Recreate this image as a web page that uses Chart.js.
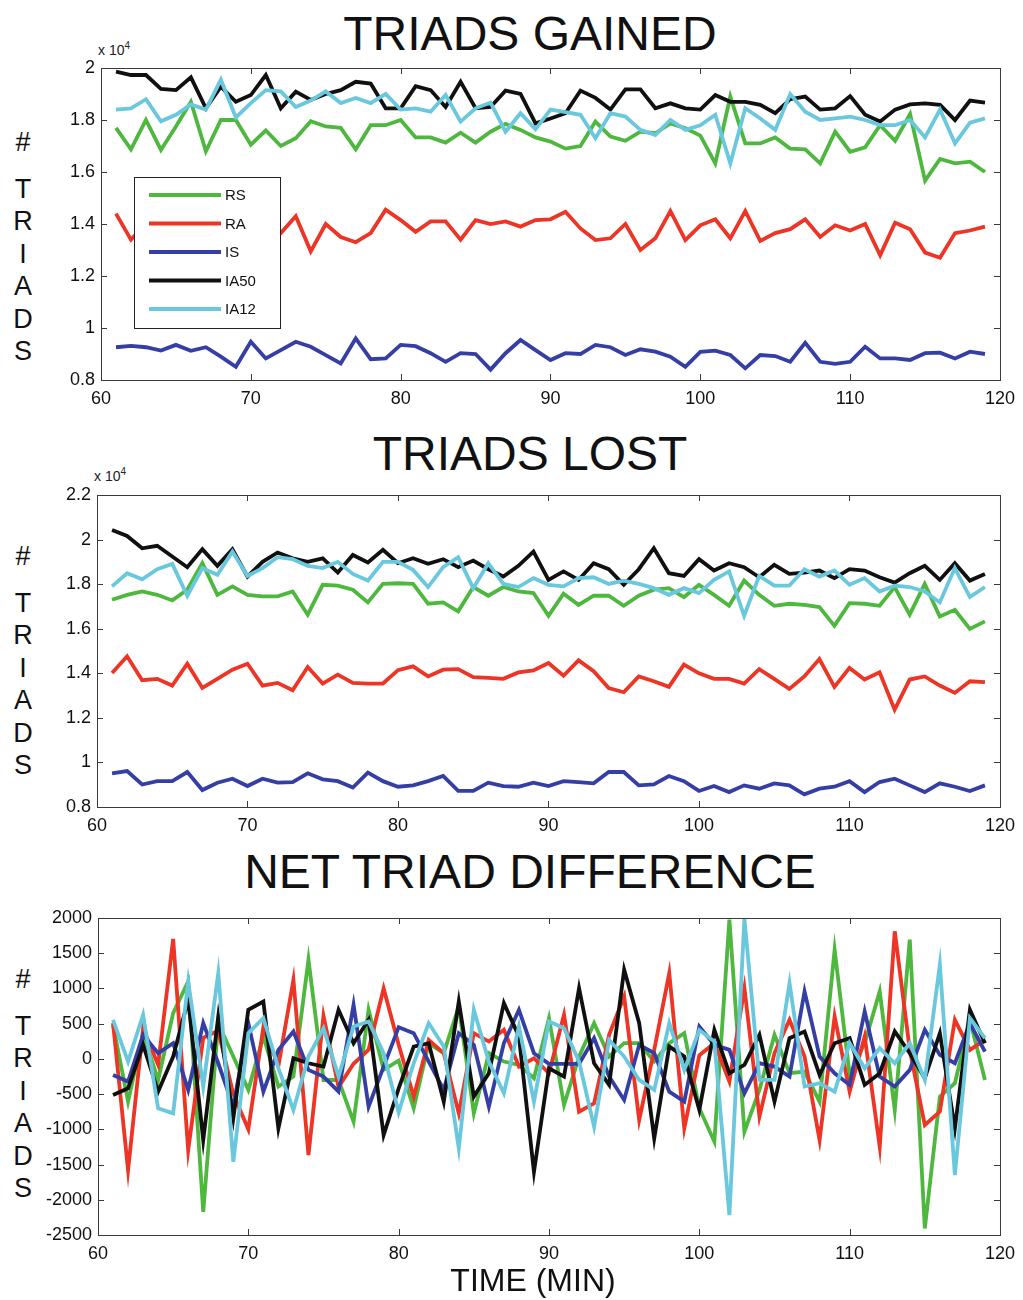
<!DOCTYPE html>
<html>
<head>
    <title>Triads</title>
    <script src="https://cdn.jsdelivr.net/npm/chart.js"></script>
    <style>
        body { margin: 0; background: #fff; font-family: "Liberation Sans", Arial, sans-serif; }
        #page { position: relative; width: 1023px; height: 1300px; overflow: hidden; }
        canvas { position: absolute; left: 0; }
        .title { position: absolute; left: 0; width: 1060px; text-align: center; font-size: 48px; color: #111; }
        .ylab { position: absolute; left: 10px; width: 26px; text-align: center; font-size: 27px; color: #111; line-height: 32.5px; }
        .ylab .gap { height: 14px; }
        .exp { position: absolute; font-size: 14px; color: #222; }
        .exp sup { font-size: 10px; }
        #xlab { position: absolute; left: 0; width: 1066px; top: 1262px; text-align: center; font-size: 32px; color: #111; }
    </style>
</head>
<body>
<div id="page">
    <div class="title" style="top:6px">TRIADS GAINED</div>
    <div class="title" style="top:426px">TRIADS LOST</div>
    <div class="title" style="top:844px">NET TRIAD DIFFERENCE</div>
    <div class="ylab" style="top:126px">#<div class="gap"></div>T<br>R<br>I<br>A<br>D<br>S</div>
    <div class="ylab" style="top:540px">#<div class="gap"></div>T<br>R<br>I<br>A<br>D<br>S</div>
    <div class="ylab" style="top:963px">#<div class="gap"></div>T<br>R<br>I<br>A<br>D<br>S</div>
    <div class="exp" style="left:98px; top:40px">x 10<sup>4</sup></div>
    <div class="exp" style="left:94px; top:466px">x 10<sup>4</sup></div>
    <canvas id="gained" width="1023" height="380" style="top:40px"></canvas>
    <canvas id="lost" width="1023" height="382" style="top:465px"></canvas>
    <canvas id="net" width="1023" height="385" style="top:890px"></canvas>
    <div id="xlab">TIME (MIN)</div>
</div>

<script>
    // time axis (minutes)
    const minutes = [61, 62, 63, 64, 65, 66, 67, 68, 69, 70, 71, 72, 73, 74, 75, 76, 77, 78, 79, 80,
        81, 82, 83, 84, 85, 86, 87, 88, 89, 90, 91, 92, 93, 94, 95, 96, 97, 98, 99, 100,
        101, 102, 103, 104, 105, 106, 107, 108, 109, 110, 111, 112, 113, 114, 115, 116, 117, 118, 119];

    const seriesNames = ['RS', 'RA', 'IS', 'IA50', 'IA12'];

    // TRIADS GAINED (x 10^4)
    const gainedRS = [1.77, 1.687, 1.80, 1.685, 1.775, 1.87, 1.68, 1.80, 1.80, 1.705, 1.76, 1.70, 1.73, 1.795, 1.775, 1.77, 1.687, 1.78, 1.78, 1.80,
        1.733, 1.733, 1.713, 1.751, 1.713, 1.755, 1.785, 1.762, 1.733, 1.717, 1.69, 1.70, 1.794, 1.736, 1.72, 1.755, 1.749, 1.787, 1.768, 1.74,
        1.633, 1.89, 1.71, 1.71, 1.733, 1.69, 1.687, 1.633, 1.755, 1.678, 1.695, 1.78, 1.72, 1.823, 1.567, 1.65, 1.633, 1.64, 1.60];
    const gainedRA = [1.44, 1.34, 1.40, 1.38, 1.42, 1.37, 1.40, 1.36, 1.41, 1.39, 1.38, 1.365, 1.43, 1.295, 1.40, 1.35, 1.33, 1.365, 1.455, 1.415,
        1.37, 1.41, 1.41, 1.34, 1.415, 1.40, 1.41, 1.39, 1.415, 1.418, 1.447, 1.383, 1.338, 1.345, 1.40, 1.30, 1.345, 1.45, 1.338, 1.395,
        1.418, 1.345, 1.45, 1.335, 1.365, 1.38, 1.418, 1.35, 1.395, 1.375, 1.40, 1.28, 1.405, 1.38, 1.29, 1.27, 1.365, 1.375, 1.39];
    const gainedIS = [0.926, 0.931, 0.926, 0.913, 0.935, 0.912, 0.926, 0.89, 0.851, 0.947, 0.883, 0.915, 0.947, 0.928, 0.896, 0.864, 0.96, 0.88, 0.883, 0.935,
        0.93, 0.903, 0.87, 0.903, 0.90, 0.84, 0.903, 0.954, 0.915, 0.877, 0.903, 0.90, 0.935, 0.926, 0.896, 0.918, 0.909, 0.89, 0.851, 0.908,
        0.913, 0.896, 0.845, 0.896, 0.892, 0.87, 0.943, 0.87, 0.862, 0.87, 0.928, 0.883, 0.883, 0.877, 0.903, 0.905, 0.883, 0.909, 0.90];
    const gainedIA50 = [1.986, 1.973, 1.973, 1.92, 1.915, 1.964, 1.845, 1.928, 1.87, 1.896, 1.973, 1.845, 1.909, 1.877, 1.90, 1.915, 1.947, 1.94, 1.845, 1.845,
        1.93, 1.915, 1.85, 1.947, 1.845, 1.85, 1.913, 1.90, 1.787, 1.806, 1.826, 1.913, 1.885, 1.84, 1.918, 1.918, 1.845, 1.864, 1.845, 1.84,
        1.896, 1.87, 1.87, 1.858, 1.826, 1.88, 1.89, 1.84, 1.845, 1.892, 1.82, 1.794, 1.84, 1.86, 1.864, 1.858, 1.80, 1.875, 1.867];
    const gainedIA12 = [1.84, 1.845, 1.88, 1.795, 1.82, 1.86, 1.84, 1.955, 1.81, 1.865, 1.915, 1.91, 1.85, 1.875, 1.91, 1.865, 1.885, 1.865, 1.90, 1.84,
        1.845, 1.832, 1.896, 1.794, 1.845, 1.867, 1.755, 1.826, 1.764, 1.84, 1.83, 1.82, 1.73, 1.826, 1.813, 1.762, 1.742, 1.80, 1.762, 1.78,
        1.82, 1.633, 1.845, 1.806, 1.762, 1.90, 1.832, 1.80, 1.806, 1.813, 1.80, 1.78, 1.78, 1.80, 1.733, 1.84, 1.71, 1.79, 1.806];

    // TRIADS LOST (x 10^4)
    const lostRS = [1.73, 1.752, 1.767, 1.752, 1.727, 1.775, 1.894, 1.752, 1.79, 1.752, 1.745, 1.745, 1.767, 1.663, 1.797, 1.793, 1.775, 1.718, 1.801, 1.804,
        1.801, 1.712, 1.718, 1.678, 1.787, 1.748, 1.787, 1.767, 1.76, 1.658, 1.757, 1.707, 1.748, 1.748, 1.703, 1.748, 1.775, 1.782, 1.742, 1.797,
        1.752, 1.703, 1.816, 1.752, 1.703, 1.712, 1.707, 1.697, 1.613, 1.715, 1.712, 1.703, 1.787, 1.663, 1.801, 1.655, 1.685, 1.599, 1.633];
    const lostRA = [1.401, 1.476, 1.369, 1.375, 1.345, 1.443, 1.334, 1.375, 1.416, 1.443, 1.345, 1.357, 1.324, 1.428, 1.354, 1.394, 1.357, 1.354, 1.354, 1.414,
        1.431, 1.386, 1.416, 1.419, 1.383, 1.379, 1.375, 1.404, 1.413, 1.446, 1.389, 1.458, 1.409, 1.334, 1.315, 1.386, 1.364, 1.339, 1.439, 1.40,
        1.375, 1.375, 1.354, 1.419, 1.375, 1.33, 1.386, 1.464, 1.339, 1.424, 1.372, 1.404, 1.237, 1.372, 1.386, 1.345, 1.312, 1.364, 1.36];
    const lostIS = [0.951, 0.961, 0.901, 0.916, 0.916, 0.957, 0.876, 0.909, 0.927, 0.894, 0.927, 0.909, 0.912, 0.951, 0.924, 0.916, 0.887, 0.954, 0.916, 0.891,
        0.897, 0.916, 0.939, 0.872, 0.872, 0.909, 0.894, 0.891, 0.909, 0.894, 0.916, 0.912, 0.906, 0.957, 0.957, 0.897, 0.901, 0.939, 0.916, 0.872,
        0.894, 0.867, 0.897, 0.882, 0.906, 0.897, 0.857, 0.882, 0.891, 0.916, 0.867, 0.912, 0.927, 0.897, 0.867, 0.906, 0.891, 0.872, 0.897];
    const lostIA50 = [2.043, 2.016, 1.961, 1.972, 1.924, 1.876, 1.957, 1.882, 1.957, 1.834, 1.90, 1.942, 1.916, 1.90, 1.916, 1.852, 1.931, 1.897, 1.954, 1.894,
        1.916, 1.891, 1.912, 1.876, 1.906, 1.867, 1.834, 1.882, 1.946, 1.819, 1.857, 1.819, 1.894, 1.867, 1.797, 1.867, 1.961, 1.849, 1.837, 1.912,
        1.861, 1.894, 1.876, 1.831, 1.887, 1.846, 1.852, 1.861, 1.827, 1.867, 1.861, 1.831, 1.807, 1.849, 1.882, 1.819, 1.894, 1.816, 1.846];
    const lostIA12 = [1.79, 1.849, 1.822, 1.867, 1.891, 1.748, 1.872, 1.842, 1.946, 1.837, 1.872, 1.921, 1.912, 1.882, 1.872, 1.90, 1.846, 1.816, 1.90, 1.90,
        1.864, 1.787, 1.876, 1.921, 1.782, 1.894, 1.801, 1.787, 1.827, 1.797, 1.79, 1.827, 1.831, 1.801, 1.816, 1.801, 1.782, 1.752, 1.782, 1.76,
        1.819, 1.857, 1.658, 1.837, 1.793, 1.793, 1.867, 1.834, 1.861, 1.797, 1.827, 1.767, 1.793, 1.787, 1.767, 1.718, 1.872, 1.742, 1.787];

    // NET TRIAD DIFFERENCE
    const netRS = [483, -607, 365, -300, 650, 1100, -2171, 507, 33, -440, 318, -393, -250, 1408, -300, -300, -891, 697, -156, -25,
        -702, 223, 81, 744, -773, 81, -38, -85, -275, 578, -654, 33, 507, 33, 223, 223, -38, 223, 365, -700,
        -1175, 1977, -1033, -441, 341, -204, -180, -607, 1550, -228, 223, 958, -725, 1692, -2408, -536, -346, 555, -299];
    const netRA = [507, -1578, 436, -85, 1702, -1294, 300, 400, -500, -1000, 450, -100, 1120, -1365, 610, -400, -70, 130, 1000, 200,
        -536, 270, 81, -773, 365, 246, 412, -109, 9, -204, 626, -749, -631, 341, 886, -867, 128, 1218, -986, 50,
        223, -322, 1005, -820, 81, 555, 33, -1152, 602, -465, 318, -1247, 1811, 128, -939, -749, 555, 128, 270];
    const netIS = [-228, -322, 341, 81, 223, -441, 507, -62, -678, 507, -465, 128, 389, -156, -251, -465, 768, -678, -109, 450,
        365, -38, -441, 365, 199, -678, 223, 697, 81, -71, -71, -71, 294, -251, -583, 199, 81, -465, -607, 460,
        199, 128, -488, -62, -109, -251, 958, 33, -204, -370, 673, -251, -393, -156, 412, 57, -62, 507, 104];
    const netIA50 = [-512, -417, 199, -465, 33, 839, -1152, 602, -844, 697, 815, -986, 9, -62, -109, 697, 223, 555, -1081, -420,
        175, 223, -607, 815, -536, -204, 792, 318, -1602, -133, -251, 1005, -62, -370, 1266, 507, -1128, 175, 33, -725,
        412, -204, -85, 341, -607, 294, 389, -228, 223, 294, -370, -204, 389, 81, -275, 365, -986, 697, 223];
    const netIA12 = [555, -38, 626, -702, -773, 1100, -393, 1218, -1460, 365, 578, -133, -725, 33, 436, -251, 460, 531, 81, -760,
        -62, 507, 175, -1270, 697, -38, -488, 460, -607, 531, 436, -38, -962, 270, 33, -299, -441, 507, -156, 410,
        246, -2218, 1990, -299, -299, 1076, -393, -346, -465, 223, -133, 152, -62, 223, -299, 1337, -1650, 578, 294];

    const colors = ['rgb(78,184,62)', 'rgb(238,52,36)', 'rgb(52,62,164)', 'rgb(16,16,16)', 'rgb(106,200,222)'];
    const FONT = '"Liberation Sans", Arial, sans-serif';

    function makeDatasets(arrays) {
        return arrays.map((arr, i) => ({
            label: seriesNames[i],
            data: minutes.map((m, j) => ({ x: m, y: arr[j] })),
            borderColor: colors[i],
            borderWidth: 3.8,
            pointRadius: 0,
            tension: 0,
            fill: false,
            order: arrays.length - i // later series drawn on top
        }));
    }

    // MATLAB-like box with inward ticks on all sides
    const boxPlugin = {
        id: 'box',
        afterDatasetsDraw(chart) {
            const { ctx, chartArea: a, scales } = chart;
            ctx.save();
            ctx.strokeStyle = '#3a3a3a';
            ctx.lineWidth = 1;
            ctx.strokeRect(a.left + 0.5, a.top + 0.5, a.right - a.left, a.bottom - a.top);
            const len = 6;
            ctx.beginPath();
            scales.x.ticks.forEach(t => {
                const px = Math.round(scales.x.getPixelForValue(t.value)) + 0.5;
                ctx.moveTo(px, a.bottom); ctx.lineTo(px, a.bottom - len);
                ctx.moveTo(px, a.top); ctx.lineTo(px, a.top + len);
            });
            scales.y.ticks.forEach(t => {
                const py = Math.round(scales.y.getPixelForValue(t.value)) + 0.5;
                ctx.moveTo(a.left, py); ctx.lineTo(a.left + len, py);
                ctx.moveTo(a.right, py); ctx.lineTo(a.right - len, py);
            });
            ctx.stroke();
            ctx.restore();
        }
    };

    // legend box drawn inside the first panel
    const legendPlugin = {
        id: 'innerLegend',
        afterDraw(chart, args, opts) {
            if (!opts.show) return;
            const { ctx, chartArea: a } = chart;
            const x0 = a.left + 33, y0 = a.top + 109, w = 146, h = 151;
            ctx.save();
            ctx.fillStyle = '#fff';
            ctx.fillRect(x0, y0, w, h);
            ctx.strokeStyle = '#222';
            ctx.lineWidth = 1;
            ctx.strokeRect(x0 + 0.5, y0 + 0.5, w, h);
            ctx.font = '15px ' + FONT;
            ctx.textBaseline = 'middle';
            chart.data.datasets.forEach((ds, i) => {
                const y = y0 + 18 + i * 28.5;
                ctx.strokeStyle = ds.borderColor;
                ctx.lineWidth = 4;
                ctx.beginPath();
                ctx.moveTo(x0 + 15, y); ctx.lineTo(x0 + 87, y);
                ctx.stroke();
                ctx.fillStyle = '#111';
                ctx.fillText(ds.label, x0 + 91, y + 1);
            });
            ctx.restore();
        }
    };

    function makePanel(id, arrays, yMin, yMax, yStep, fmt, pad, legend) {
        new Chart(document.getElementById(id), {
            type: 'line',
            data: { datasets: makeDatasets(arrays) },
            options: {
                responsive: false,
                animation: false,
                layout: { padding: pad },
                plugins: { legend: { display: false }, tooltip: { enabled: false }, innerLegend: { show: legend } },
                scales: {
                    x: {
                        type: 'linear', min: 60, max: 120,
                        grid: { display: false, drawTicks: false }, border: { display: false },
                        ticks: { stepSize: 10, padding: 8, color: '#111', font: { size: 18, family: FONT } },
                        afterFit: s => { s.height = 40; }
                    },
                    y: {
                        min: yMin, max: yMax,
                        grid: { display: false, drawTicks: false }, border: { display: false },
                        ticks: { stepSize: yStep, padding: 6, color: '#111', font: { size: 18, family: FONT }, callback: fmt },
                        afterFit: s => { s.width = pad.yw; }
                    }
                }
            },
            plugins: [boxPlugin, legendPlugin]
        });
    }

    const fmtK = v => String(Number(v.toFixed(1)));
    const fmtNet = v => String(Math.round(v));

    makePanel('gained', [gainedRS, gainedRA, gainedIS, gainedIA50, gainedIA12], 0.8, 2, 0.2, fmtK,
        { top: 28, right: 18, bottom: 0, left: 0, yw: 101 }, true);
    makePanel('lost', [lostRS, lostRA, lostIS, lostIA50, lostIA12], 0.8, 2.2, 0.2, fmtK,
        { top: 30, right: 22, bottom: 0, left: 0, yw: 97 }, false);
    makePanel('net', [netRS, netRA, netIS, netIA50, netIA12], -2500, 2000, 500, fmtNet,
        { top: 28, right: 20, bottom: 0, left: 0, yw: 98 }, false);
</script>
</body>
</html>
